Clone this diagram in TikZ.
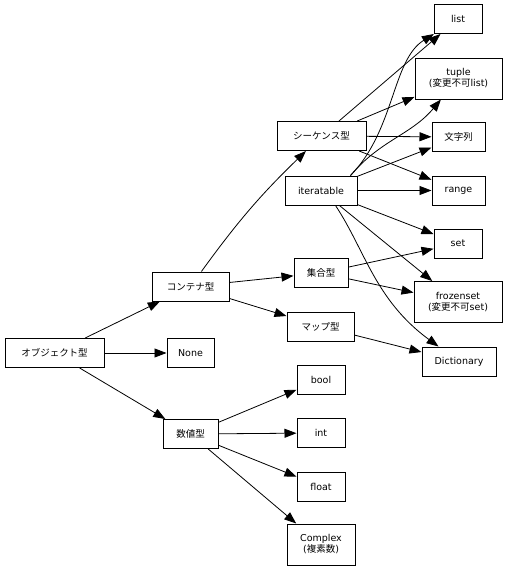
\documentclass[tikz,border=0pt]{standalone}
\usepackage{fontspec}
\setmainfont{DejaVu Sans}
\newfontfamily\jp{Noto Sans CJK JP}
\usetikzlibrary{arrows.meta}
\begin{document}
\begin{tikzpicture}[x=1pt, y=1pt, font=\fontsize{9.5}{11}\selectfont,
  typebox/.style={draw, line width=1pt, inner sep=0pt, align=center, minimum width=#1, minimum height=29pt},
  typebox/.default=48pt,
  tallbox/.style={typebox=#1, minimum height=41pt},
  edge/.style={-{Triangle[length=12pt,width=9pt]}, line width=0.8pt}]
\useasboundingbox (0,0) rectangle (509,-571);

\node[typebox=99pt] (obj) at (54.5,-353) {\jp オブジェクト型};
\node[typebox=77pt] (cont) at (190.5,-286.5) {\jp コンテナ型};
\node[typebox=47pt] (none) at (190.5,-353) {None};
\node[typebox=55pt] (num) at (190.5,-434) {\jp 数値型};

\node[typebox=89pt] (seq) at (321.5,-136) {\jp シーケンス型};
\node[typebox=72pt] (iter) at (321,-190.5) {iteratable};
\node[typebox=54pt] (setg) at (321,-273) {\jp 集合型};
\node[typebox=67pt] (map) at (320.5,-326.5) {\jp マップ型};
\node[typebox] (bool) at (321,-379.5) {bool};
\node[typebox] (int) at (321,-433) {int};
\node[typebox] (float) at (321,-486.5) {float};
\node[tallbox=68pt] (cplx) at (321,-544.5) {Complex\\({\jp 複素数})};

\node[typebox] (list) at (458,-19) {list};
\node[tallbox=87pt] (tuple) at (458.5,-78.5) {tuple\\({\jp 変更不可}list)};
\node[typebox=53pt] (str) at (458.5,-137) {\jp 文字列};
\node[typebox=53pt] (range) at (458.5,-190.5) {range};
\node[typebox] (set) at (458,-243.5) {set};
\node[tallbox=88pt] (frozen) at (458,-302) {frozenset\\({\jp 変更不可}set)};
\node[typebox=74pt] (dict) at (459,-361.5) {Dictionary};
\coordinate (itop) at ([xshift=-7pt]iter.north east);
\coordinate (ibot) at ([xshift=-22pt]iter.south east);

% object types
\draw[edge] (obj) -- (cont);
\draw[edge] (obj) -- (none);
\draw[edge] (obj) -- (num);

% containers
\draw[edge] (cont) to[bend left=5] (seq);
\draw[edge] (cont) -- (setg);
\draw[edge] (cont) -- (map);

% numbers
\draw[edge] (num) -- (bool);
\draw[edge] (num) -- (int);
\draw[edge] (num) -- (float);
\draw[edge] (num) -- (cplx);

% sequences
\draw[edge] (seq) -- (list);
\draw[edge] (seq) -- (tuple);
\draw[edge] (seq) -- (str);
\draw[edge] (seq) -- (range);

% iteratable
\draw[edge] (itop) .. controls (395,-130) and (392,-60) .. (list);
\draw[edge] (itop) to[out=50,in=-130] (tuple);
\draw[edge] (iter) -- (str);
\draw[edge] (iter) -- (range);
\draw[edge] (iter) -- (set);
\draw[edge] (iter) -- (frozen);
\draw[edge] (ibot) .. controls (365,-250) and (375,-300) .. (dict);

% sets and maps
\draw[edge] (setg) -- (set);
\draw[edge] (setg) -- (frozen);
\draw[edge] (map) -- (dict);
\end{tikzpicture}
\end{document}
